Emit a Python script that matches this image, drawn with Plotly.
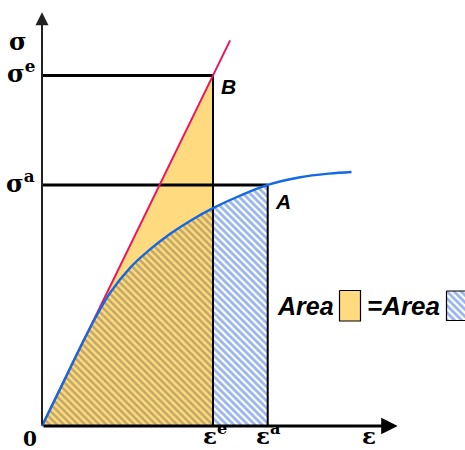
import plotly.graph_objects as go

# Strain / stress landmarks (ε in units of ε^e)
eps_e = 1.0
eps_a = 1.32
sig_e = 2.05
sig_a = 1.41
elastic_end = [1.10, 2.255]   # end of the linear-elastic line

# Elasto-plastic response curve
curve_eps = [0.0, 0.135, 0.27, 0.40, 0.515, 0.63, 0.75, 0.87, 1.0, 1.16, 1.32, 1.51, 1.68, 1.81]
curve_sig = [0.0, 0.277, 0.553, 0.781, 0.925, 1.031, 1.124, 1.202, 1.274, 1.348, 1.41, 1.455, 1.476, 1.485]

YELLOW = "#FFDA7E"
OLIVE = "#807350"
BLUE_HATCH = "#336AD4"
RED = "#E8175D"
BLUE = "#1469E3"
SERIF = "DejaVu Serif"
SANS = "Liberation Sans"

i_e = curve_eps.index(eps_e)
i_a = curve_eps.index(eps_a)

fig = go.Figure()

# Elastic energy triangle under the straight line
fig.add_trace(go.Scatter(
    x=[0, eps_e, eps_e, 0], y=[0, 0, sig_e, 0], mode="lines",
    fill="toself", fillcolor=YELLOW, line=dict(width=0), hoverinfo="skip"))

# Hatched area under the curve up to ε^e
fig.add_trace(go.Scatter(
    x=curve_eps[:i_e + 1], y=curve_sig[:i_e + 1], mode="lines",
    line=dict(width=0, shape="spline"), fill="tozeroy", fillcolor=YELLOW,
    fillpattern=dict(shape="\\", fgcolor=OLIVE, bgcolor=YELLOW, size=5, solidity=0.5),
    hoverinfo="skip"))

# Hatched area under the curve from ε^e to ε^a
fig.add_trace(go.Scatter(
    x=curve_eps[i_e:i_a + 1], y=curve_sig[i_e:i_a + 1], mode="lines",
    line=dict(width=0, shape="spline"), fill="tozeroy", fillcolor="white",
    fillpattern=dict(shape="\\", fgcolor=BLUE_HATCH, bgcolor="white", size=5, solidity=0.55),
    hoverinfo="skip"))

# Guide lines to σ^e, σ^a, ε^e, ε^a
for xs, ys, w in [([0, eps_e], [sig_e, sig_e], 3),
                  ([0, eps_a], [sig_a, sig_a], 3),
                  ([eps_e, eps_e], [0, sig_e], 2),
                  ([eps_a, eps_a], [0, sig_a], 2)]:
    fig.add_trace(go.Scatter(x=xs, y=ys, mode="lines",
                             line=dict(color="black", width=w), hoverinfo="skip"))

# Linear-elastic line
fig.add_trace(go.Scatter(x=[0, elastic_end[0]], y=[0, elastic_end[1]], mode="lines",
                         line=dict(color=RED, width=2), hoverinfo="skip"))

# Response curve
fig.add_trace(go.Scatter(x=curve_eps, y=curve_sig, mode="lines",
                         line=dict(color=BLUE, width=2.4, shape="spline"), hoverinfo="skip"))

# Legend swatches drawn on a pixel-based overlay axis
fig.add_trace(go.Scatter(
    x=[339.5, 360.5, 360.5, 339.5, 339.5], y=[290.5, 290.5, 321, 321, 290.5],
    mode="lines", fill="toself", fillcolor=YELLOW, line=dict(color="black", width=1.2),
    xaxis="x2", yaxis="y2", hoverinfo="skip"))
fig.add_trace(go.Scatter(
    x=[446.5, 466, 466, 446.5, 446.5], y=[291, 291, 320.5, 320.5, 291],
    mode="lines", fill="toself", fillcolor="white",
    fillpattern=dict(shape="\\", fgcolor=BLUE_HATCH, bgcolor="white", size=5, solidity=0.55),
    line=dict(color="black", width=1.2),
    xaxis="x2", yaxis="y2", hoverinfo="skip"))

ann = []
# Axis arrows
ann.append(dict(x=0, y=2.42, ax=0, ay=0, xref="x", yref="y", axref="x", ayref="y",
                showarrow=True, arrowhead=2, arrowsize=1.3, arrowwidth=2, arrowcolor="#222",
                text=""))
ann.append(dict(x=2.08, y=0, ax=0, ay=0, xref="x", yref="y", axref="x", ayref="y",
                showarrow=True, arrowhead=2, arrowsize=1.1, arrowwidth=3, arrowcolor="black",
                text=""))

def lab(text, x, y, size, family, **kw):
    d = dict(text=text, x=x, y=y, xref="x", yref="y", showarrow=False,
             font=dict(family=family, size=size, color="black"))
    d.update(kw)
    ann.append(d)

lab("<b>σ</b>", 0, 2.25, 24, SERIF, xanchor="right", xshift=-13)
lab("<b>σ<sup>e</sup></b>", 0, sig_e, 24, SERIF, xanchor="right", xshift=-5, yshift=3)
lab("<b>σ<sup>a</sup></b>", 0, sig_a, 24, SERIF, xanchor="right", xshift=-5, yshift=3)
lab("<b>0</b>", 0, 0, 20, SERIF, xanchor="right", xshift=-3, yanchor="top", yshift=1)

# Strain labels sit on the bottom edge of the figure
for txt, xv, dx in [("<b>ε<sup>e</sup></b>", eps_e, 2),
                    ("<b>ε<sup>a</sup></b>", eps_a, 1),
                    ("<b>ε</b>", 1.91, 0)]:
    ann.append(dict(text=txt, x=xv, y=0, xref="x", yref="paper", xanchor="center",
                    yanchor="bottom", xshift=dx, yshift=-1, showarrow=False,
                    font=dict(family=SERIF, size=23, color="black")))

lab("<b><i>B</i></b>", eps_e, sig_e, 21, SANS, xanchor="left", xshift=6, yshift=-11)
lab("<b><i>A</i></b>", eps_a, sig_a, 21, SANS, xanchor="left", xshift=5, yshift=-17)

ann.append(dict(text="<b><i>Area</i></b>", x=336, y=306, xref="x2", yref="y2",
                xanchor="right", yanchor="middle", showarrow=False,
                font=dict(family=SANS, size=25, color="black")))
ann.append(dict(text="<b><i>=Area</i></b>", x=365, y=306, xref="x2", yref="y2",
                xanchor="left", yanchor="middle", showarrow=False,
                font=dict(family=SANS, size=26, color="black")))

fig.update_layout(
    width=465, height=450, margin=dict(l=0, r=0, t=0, b=0),
    paper_bgcolor="white", plot_bgcolor="white", showlegend=False,
    xaxis=dict(range=[-42 / 171, 423 / 171], visible=False),
    yaxis=dict(range=[-24 / 171, 426 / 171], visible=False),
    xaxis2=dict(range=[0, 465], visible=False, overlaying="x", anchor="y2"),
    yaxis2=dict(range=[450, 0], visible=False, overlaying="y", anchor="x2"),
    annotations=ann,
)

fig.write_html("out.html")
